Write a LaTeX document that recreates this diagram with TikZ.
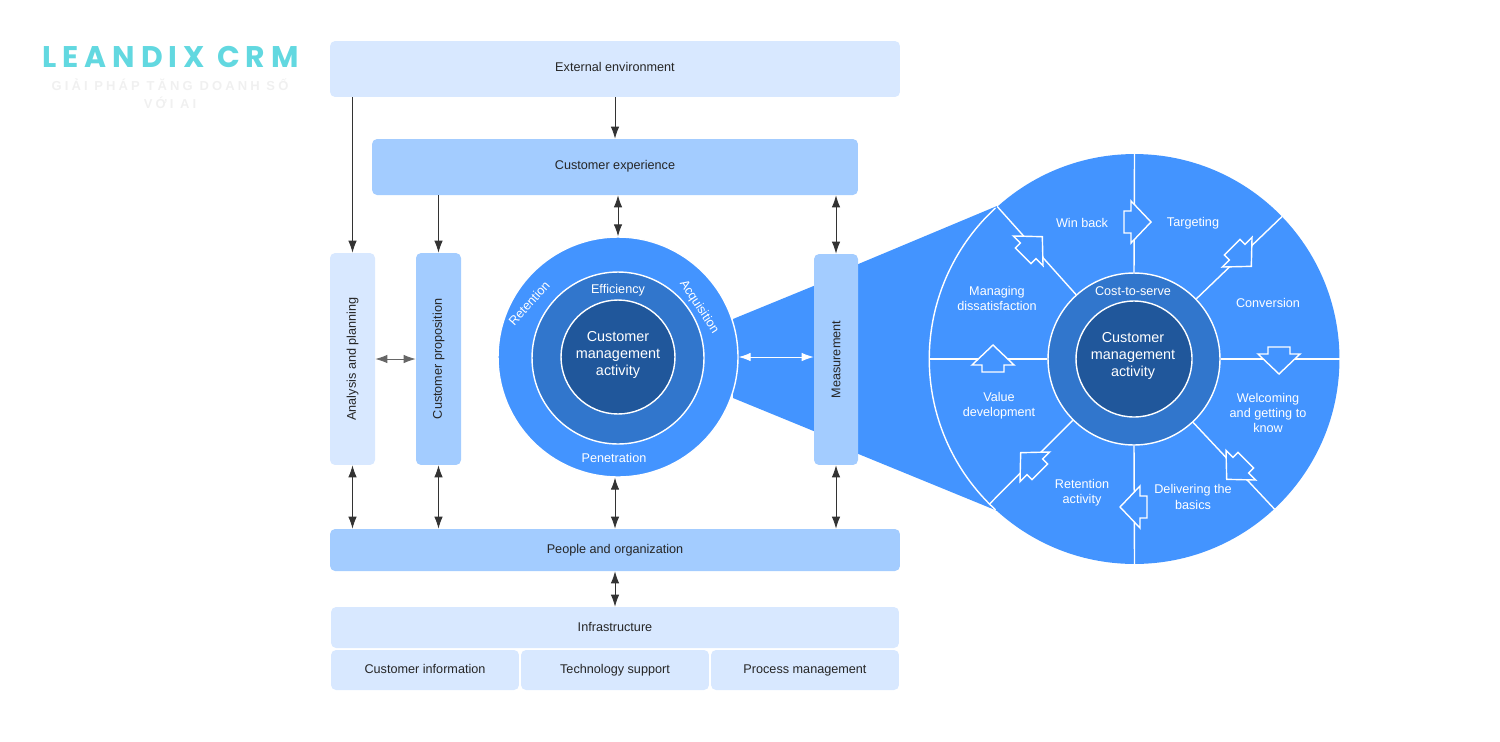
\documentclass[tikz,border=0pt]{standalone}
\usepackage{fontspec}
\setmainfont{Liberation Sans}
\newfontfamily\logofont[LetterSpace=20]{Poppins}
\newfontfamily\sublogofont[LetterSpace=24]{Liberation Sans}
\usetikzlibrary{arrows.meta}
\definecolor{palebox}{HTML}{D8E8FF}
\definecolor{midbox}{HTML}{A3CCFF}
\definecolor{ringa}{HTML}{4394FF}
\definecolor{ringb}{HTML}{3176CC}
\definecolor{ringc}{HTML}{20579B}
\definecolor{logoc}{HTML}{62D8E0}
\definecolor{arrowc}{HTML}{333333}
\tikzset{
  lbl/.style={font=\fontsize{7.2}{8.6}\selectfont,text=black!85,align=center},
  wlbl/.style={font=\fontsize{7.2}{8.6}\selectfont,text=white,align=center},
  clbl/.style={font=\fontsize{8.2}{9.8}\selectfont,text=white,align=center},
  pbox/.style={lbl,rectangle,rounded corners=0.1cm,fill=palebox,inner sep=0pt},
  mbox/.style={pbox,fill=midbox},
  ring/.style={circle,draw=white,line width=0.8pt,inner sep=0pt},
  one/.style={-{Latex[length=0.24cm,width=0.17cm]},arrowc,line width=0.5pt},
  two/.style={{Latex[length=0.24cm,width=0.17cm]}-{Latex[length=0.24cm,width=0.17cm]},arrowc,line width=0.5pt},
}
\begin{document}
\begin{tikzpicture}[x=0.02cm,y=-0.02cm]
	\useasboundingbox (0,0) rectangle (1500,741);

	% funnels behind the circles
	\fill[ringa] (733,319) -- (816,285) -- (816,432) -- (733,398) -- cycle;
	\fill[ringa] (856,265) -- (997,206) -- (1005,514) -- (856,453) -- cycle;

	\node (ext)   [pbox,text depth=2pt,minimum width=11.4cm,minimum height=1.12cm] at (615,69)  {External environment};
	\node (cexp)  [mbox,text depth=2.5pt,minimum width=9.72cm,minimum height=1.12cm] at (615,167) {Customer experience};
	\node (ana)   [pbox,minimum width=0.9cm,minimum height=4.24cm] at (352.5,359) {\rotatebox{90}{Analysis and planning}};
	\node (prop)  [mbox,minimum width=0.9cm,minimum height=4.24cm] at (438.5,359) {\rotatebox{90}{Customer proposition}};
	\node (meas)  [mbox,minimum width=0.88cm,minimum height=4.22cm] at (836,359.5) {\rotatebox{90}{Measurement}};
	\node (ppl)   [mbox,minimum width=11.4cm,minimum height=0.84cm] at (615,550) {People and organization};
	\node (infra) [pbox,text depth=1pt,minimum width=11.36cm,minimum height=0.82cm] at (615,627.5) {Infrastructure};
	\node (cinfo) [pbox,text depth=1pt,minimum width=3.76cm,minimum height=0.8cm] at (425,670) {Customer information};
	\node (tech)  [pbox,minimum width=3.76cm,minimum height=0.8cm] at (615,670) {Technology support};
	\node (proc)  [pbox,minimum width=3.76cm,minimum height=0.8cm] at (805,670) {Process management};

	% left circle
	\node (c1) [ring,fill=ringa,minimum size=4.8cm]  at (618,357) {};
	\node (c2) [ring,fill=ringb,minimum size=3.44cm] at (618,358) {};
	\node (c3) [ring,fill=ringc,minimum size=2.28cm] at (618,357) {};
	\node (c3t) [clbl] at (618,355) {Customer\\management\\activity};
	\node (eff)  [wlbl] at (618,290) {Efficiency};
	\node (pen)  [wlbl] at (614,458) {Penetration};
	\node (ret)  [wlbl,rotate=48]  at (529,303) {Retention};
	\node (acq)  [wlbl,rotate=-57] at (699,307) {Acquisition};

	% right wheel
	\node (wheel) [circle,fill=ringa,inner sep=0pt,minimum size=8.2cm] at (1134.5,359) {};
	\draw[white,line width=0.8pt] (995.5,208) arc[start angle=227.4,end angle=132.6,radius=205];
	\node (hub) [ring,fill=ringb,minimum size=3.44cm] at (1134,359) {};
	\node (core)[ring,fill=ringc,minimum size=2.32cm] at (1134,359) {};
	\foreach \a in {90,44.6,0,-47,-90,225.6,180,132.6}
	  \draw[white,line width=0.8pt] (hub.\a) -- (wheel.\a);
	\foreach \ax/\ay/\ang in {1135/222/0,1240/255/-45,1279/358/-90,1238/468/-135,1136/507/180,1032/464/135,993/361/90,1031/248/45}
	  \filldraw[ringa,draw=white,line width=0.8pt,shift={(\ax,\ay)},rotate=\ang]
	    (-11,-11) -- (-4,-11) -- (-4,-21) -- (16,0) -- (-4,21) -- (-4,11) -- (-11,11) -- cycle;

	\node (coret) [clbl] at (1133,356) {Customer\\management\\activity};
	\node (cts) [wlbl] at (1133,291) {Cost-to-serve};
	\node (l1) [wlbl] at (1082,223)  {Win back};
	\node (l2) [wlbl] at (1193,223.5) {Targeting};
	\node (l3) [wlbl] at (1268,303)  {Conversion};
	\node (l4) [wlbl] at (1268,413)  {Welcoming\\and getting to\\know};
	\node (l5) [wlbl] at (1193,497)  {Delivering the\\basics};
	\node (l6) [wlbl] at (1082,492.5) {Retention\\activity};
	\node (l7) [wlbl] at (999,406)   {Value\\development};
	\node (l8) [wlbl] at (997,298.5) {Managing\\dissatisfaction};

	% connectors
	\draw[one] (ext.south -| ana) -- (ana);
	\draw[one] (ext) -- (cexp);
	\draw[one] (cexp.south -| prop) -- (prop);
	\draw[two] (cexp.south -| c1) -- (c1);
	\draw[two] (cexp.south -| meas) -- (meas);
	\draw[two,black!60] (ana) -- (prop);
	\draw[two,white] (c1) -- (c1 -| meas.west);
	\foreach \from in {ana,prop,meas}
	  \draw[two] (\from) -- (ppl.north -| \from);
	\draw[two] (c1.south -| ppl) -- (ppl);
	\draw[two] (ppl) -- (infra);

	% logo
	\node (logo) [font=\fontsize{17}{20}\selectfont\logofont\bfseries,text=logoc,inner sep=0pt] at (170.5,57) {LEANDIX CRM};
	\node (slogan) [font=\fontsize{7.4}{10}\selectfont\bfseries\sublogofont,text=black!6,align=center,inner sep=0pt] at (170,94) {GIẢI PHÁP TĂNG DOANH SỐ\\VỚI AI};
\end{tikzpicture}
\end{document}
